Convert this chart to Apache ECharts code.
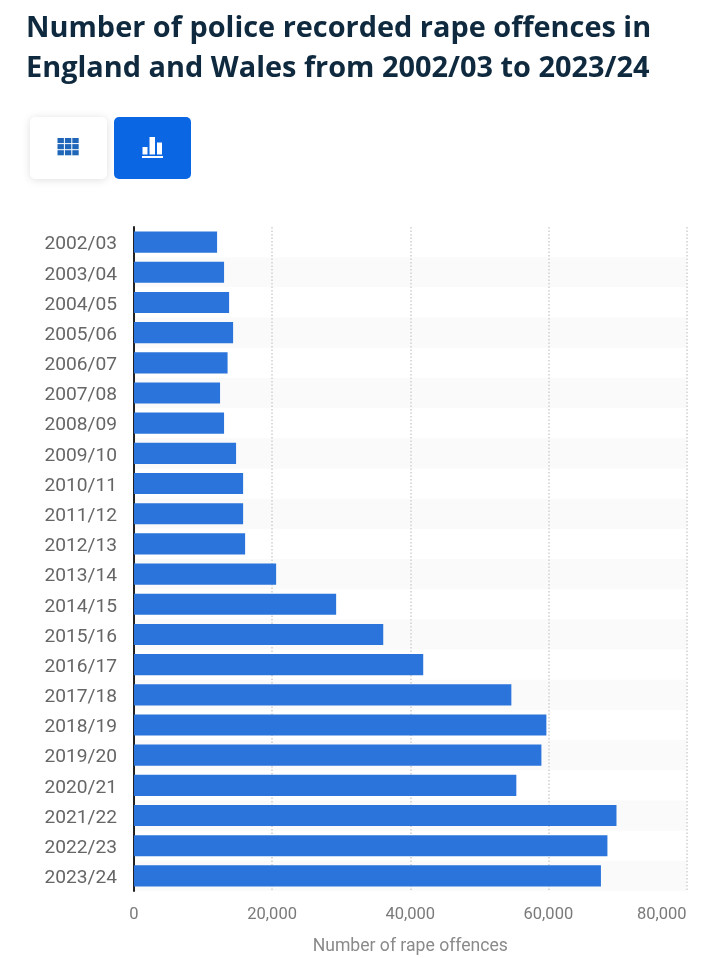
<!DOCTYPE html>
<html><head><meta charset="utf-8">
<style>html,body{margin:0;padding:0;background:#fff}#c{width:720px;height:958px}</style>
<script src="https://cdn.jsdelivr.net/npm/echarts@6/dist/echarts.min.js"></script>
</head><body><div id="c"></div>
<script>
const categories = ["2002/03","2003/04","2004/05","2005/06","2006/07","2007/08","2008/09","2009/10","2010/11","2011/12","2012/13","2013/14","2014/15","2015/16","2016/17","2017/18","2018/19","2019/20","2020/21","2021/22","2022/23","2023/24"];
const offences = [12030,13040,13770,14350,13550,12460,13040,14780,15800,15800,16090,20580,29270,36090,41880,54640,59710,58990,55360,69860,68550,67610];
const tickLabelFont = 'Roboto';
const chart = echarts.init(document.getElementById('c'), null, {renderer:'canvas'});
const blue = '#0b66e4', iconBlue = '#1f66b8';
function gridIcon(){
  const out=[];
  for(let r=0;r<3;r++)for(let c=0;c<3;c++){
    out.push({type:'rect',z:10,shape:{x:57.5+c*7.4,y:138+r*6.1,width:6.4,height:5.1},style:{fill:iconBlue}});
  }
  return out;
}
chart.setOption({
  animation:false,
  backgroundColor:'#fff',
  title:{text:'Number of police recorded rape offences in\nEngland and Wales from 2002/03 to 2023/24',left:26,top:9,padding:0,
    textStyle:{fontFamily:'Open Sans',fontWeight:700,fontSize:28.9,lineHeight:40,color:'#0f2a3f'}},
  grid:{left:134,right:33.5,top:227,bottom:67,outerBoundsMode:'none'},
  xAxis:{type:'value',min:0,max:80000,interval:20000,
    name:'Number of rape offences',nameLocation:'middle',nameGap:47,
    nameTextStyle:{fontFamily:tickLabelFont,fontSize:17.6,color:'#8a8a8a'},
    axisLine:{show:false},axisTick:{show:false},
    axisLabel:{fontFamily:tickLabelFont,fontSize:16.5,color:'#7a7a7a',margin:15,
      formatter:v=>v.toLocaleString('en-US'),
      alignMaxLabel:'right',alignMinLabel:'center'},
    splitLine:{show:true,lineStyle:{type:[1.5,2],color:'#cfcfcf',width:1.5}}},
  yAxis:{type:'category',inverse:true,data:categories,
    axisLine:{show:true,lineStyle:{color:'#222',width:2}},axisTick:{show:false},
    axisLabel:{margin:17,formatter:'{a|{value}}',
      rich:{a:{fontFamily:tickLabelFont,fontSize:19.2,color:'#666',padding:[5,0,0,0]}}},
    splitArea:{show:true,areaStyle:{color:['rgba(255,255,255,0)','#fafafa']}},
    splitLine:{show:false}},
  series:[{type:'bar',data:offences,barWidth:'70%',itemStyle:{color:'#2b74dc'}}],
  graphic:[
    {type:'rect',z:5,shape:{x:30,y:117,width:77,height:62,r:5},style:{fill:'#fff',shadowBlur:9,shadowColor:'rgba(0,0,0,0.13)',shadowOffsetY:1}},
    {type:'rect',z:5,shape:{x:114,y:117,width:77,height:62,r:5},style:{fill:blue}},
    ...gridIcon(),
    {type:'rect',z:10,shape:{x:142.5,y:147,width:5,height:7.5},style:{fill:'#fff'}},
    {type:'rect',z:10,shape:{x:149.5,y:137,width:5.5,height:17.5},style:{fill:'#fff'}},
    {type:'rect',z:10,shape:{x:157,y:142.5,width:5,height:12},style:{fill:'#fff'}},
    {type:'rect',z:10,shape:{x:142,y:156,width:21,height:2},style:{fill:'#fff'}}
  ]
});
</script></body></html>
